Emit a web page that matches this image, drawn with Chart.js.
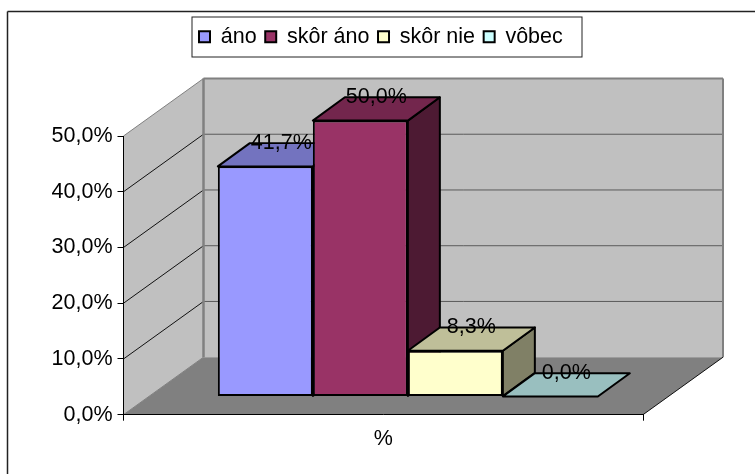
<!DOCTYPE html>
<html>
<head>
<meta charset="utf-8">
<style>
  html, body { margin: 0; padding: 0; background: #fff; }
  canvas { display: block; }
</style>
<script src="https://cdn.jsdelivr.net/npm/chart.js@4"></script>
</head>
<body>
<canvas id="surveyChart" width="755" height="474"></canvas>
<script>
const categories = ['%'];
const answers = ['áno', 'skôr áno', 'skôr nie', 'vôbec'];
const percents = [41.7, 50.0, 8.3, 0.0];
const barColors = ['#9999ff', '#993366', '#ffffcc', '#ccffff'];

const font = { family: '"Liberation Sans", Arial, sans-serif', size: 21.5 };
const wallDepth = { x: 80, y: -57.5 };
const barDepth = { x: 32, y: -23.5 };
const barShift = { x: 24.6, y: -18.2 };
const barSquash = 0.99; // bars stand deeper in the room, so they come out a bit shorter
const legendBox = { x: 192, y: 17, w: 390, h: 40 };

function fmtPercent(v) {
  return v.toFixed(1).replace('.', ',') + '%';
}

function shade(hex, k) {
  const n = parseInt(hex.slice(1), 16);
  const r = Math.round((n >> 16 & 255) * k);
  const g = Math.round((n >> 8 & 255) * k);
  const b = Math.round((n & 255) * k);
  return `rgb(${r},${g},${b})`;
}

function poly(ctx, pts, fill, stroke, width) {
  ctx.beginPath();
  pts.forEach((p, i) => i ? ctx.lineTo(p[0], p[1]) : ctx.moveTo(p[0], p[1]));
  ctx.closePath();
  if (fill) {
    ctx.fillStyle = fill;
    ctx.fill();
  }
  if (stroke) {
    ctx.strokeStyle = stroke;
    ctx.lineWidth = width;
    ctx.stroke();
  }
}

function line(ctx, x1, y1, x2, y2, color, width) {
  ctx.beginPath();
  ctx.moveTo(x1, y1);
  ctx.lineTo(x2, y2);
  ctx.strokeStyle = color;
  ctx.lineWidth = width;
  ctx.stroke();
}

// walls, floor, outer frame and the legend outline
const roomPlugin = {
  id: 'room',
  afterLayout(chart) {
    // the legend keeps its slot in the layout but is drawn higher up
    const lg = chart.legend;
    lg.left = legendBox.x + 7 - lg.options.labels.padding;
    lg.right = chart.width;
    lg.top = legendBox.y + 0.5;
    lg.bottom = legendBox.y + legendBox.h;
  },
  beforeDraw(chart) {
    const { ctx, chartArea: a, scales } = chart;
    const dx = wallDepth.x, dy = wallDepth.y;
    ctx.save();
    ctx.fillStyle = '#fff';
    ctx.fillRect(0, 0, chart.width, chart.height);

    line(ctx, 7.5, chart.height, 7.5, 11.5, '#222', 1.5);
    line(ctx, 7.5, 11.5, chart.width, 11.5, '#222', 1.5);
    ctx.strokeStyle = '#222';
    ctx.lineWidth = 1;
    ctx.strokeRect(legendBox.x, legendBox.y, legendBox.w, legendBox.h);

    poly(ctx, [[a.left, a.top], [a.left + dx, a.top + dy], [a.left + dx, a.bottom + dy], [a.left, a.bottom]], '#c0c0c0');
    poly(ctx, [[a.left + dx, a.top + dy], [a.right + dx, a.top + dy], [a.right + dx, a.bottom + dy], [a.left + dx, a.bottom + dy]], '#c0c0c0');
    poly(ctx, [[a.left, a.bottom], [a.right, a.bottom], [a.right + dx, a.bottom + dy], [a.left + dx, a.bottom + dy]], '#808080');

    scales.y.ticks.forEach(t => {
      const y = scales.y.getPixelForValue(t.value);
      if (t.value > 0 && t.value < scales.y.max) {
        line(ctx, a.left + dx, y + dy, a.right + dx, y + dy, '#5a5a5a', 1);
      }
      if (t.value > 0) {
        line(ctx, a.left, y, a.left + dx, y + dy, t.value < scales.y.max ? '#111' : '#808080', 1);
      }
    });

    line(ctx, a.left + dx, a.top + dy, a.right + dx, a.top + dy, '#808080', 2);
    line(ctx, a.left + dx, a.top + dy, a.left + dx, a.bottom + dy, '#808080', 2.5);
    line(ctx, a.right + dx, a.top + dy, a.right + dx, a.bottom + dy, '#808080', 2);
    line(ctx, a.left, a.bottom, a.left + dx, a.bottom + dy, '#808080', 1);
    line(ctx, a.right, a.bottom, a.right + dx, a.bottom + dy, '#111', 1);
    ctx.restore();
  }
};

// bars are painted left to right, pushed back into the room,
// each with its top and side face; the value labels go on last
const columnPlugin = {
  id: 'column',
  beforeDatasetsDraw(chart) {
    const { ctx, chartArea: a } = chart;
    const dx = barDepth.x, dy = barDepth.y;
    ctx.save();
    ctx.translate(barShift.x, barShift.y + a.bottom * (1 - barSquash));
    ctx.scale(1, barSquash);
    ctx.lineJoin = 'round';
    percents.forEach((v, i) => {
      const meta = chart.getDatasetMeta(i);
      const el = meta.data[0];
      const l = el.x - el.width / 2, r = el.x + el.width / 2;
      const t = el.y, b = el.base;
      if (b - t > 0.5) {
        poly(ctx, [[r, t], [r + dx, t + dy], [r + dx, b + dy], [r, b]], shade(barColors[i], 0.5), '#000', 2);
      }
      poly(ctx, [[l, t], [r, t], [r + dx, t + dy], [l + dx, t + dy]], shade(barColors[i], 0.75), '#000', 2);
      meta.controller.draw();
    });
    ctx.restore();

    ctx.save();
    ctx.font = `${font.size}px ${font.family}`;
    ctx.fillStyle = '#000';
    ctx.textAlign = 'center';
    ctx.textBaseline = 'middle';
    percents.forEach((v, i) => {
      const el = chart.getDatasetMeta(i).data[0];
      const top = a.bottom + (el.y - a.bottom) * barSquash + barShift.y;
      ctx.fillText(fmtPercent(v), el.x + barShift.x + barDepth.x / 2, top + barDepth.y);
    });
    ctx.restore();
    return false;
  }
};

new Chart(document.getElementById('surveyChart').getContext('2d'), {
  type: 'bar',
  data: {
    labels: categories,
    datasets: answers.map((a, i) => ({
      label: a,
      data: [percents[i]],
      backgroundColor: barColors[i],
      borderColor: '#000',
      borderWidth: 2,
      borderSkipped: false
    }))
  },
  options: {
    responsive: false,
    animation: false,
    events: [],
    layout: { padding: { top: 106, right: 112, left: 0, bottom: 0 } },
    categoryPercentage: 0.7315,
    barPercentage: 1,
    plugins: {
      tooltip: { enabled: false },
      legend: {
        position: 'top',
        align: 'start',
        maxHeight: 30,
        labels: { color: '#000', font: font, boxWidth: 11, boxHeight: 11, padding: 8.6 }
      }
    },
    scales: {
      x: {
        afterFit(s) { s.height = 59.3; },
        grid: { offset: true, drawOnChartArea: false, color: '#000', tickLength: 6 },
        border: { color: '#000' },
        ticks: { color: '#000', font: font, padding: 5 }
      },
      y: {
        min: 0,
        max: 50,
        afterFit(s) { s.width = 123.5; },
        grid: { drawOnChartArea: false, color: '#000', tickLength: 6 },
        border: { color: '#000' },
        ticks: { color: '#000', font: font, stepSize: 10, padding: 5, callback: v => fmtPercent(v) }
      }
    }
  },
  plugins: [roomPlugin, columnPlugin]
});
</script>
</body>
</html>
